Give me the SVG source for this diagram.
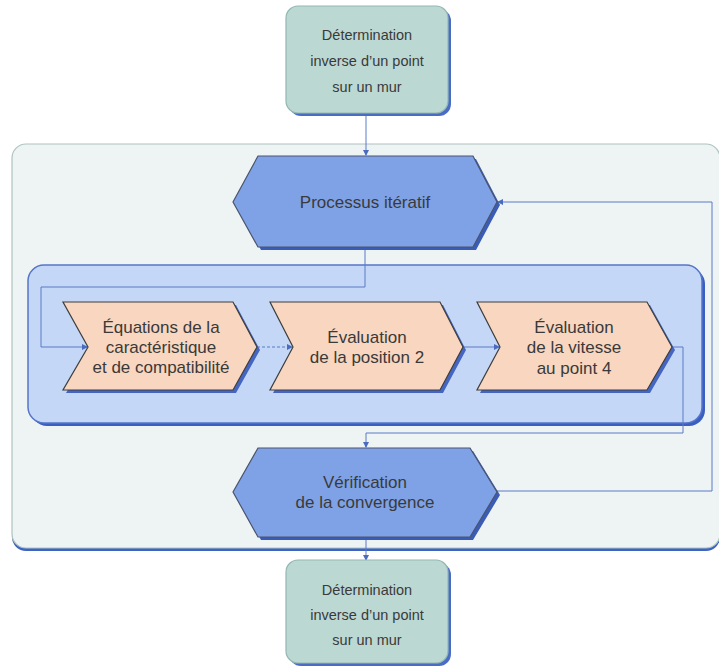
<svg xmlns="http://www.w3.org/2000/svg" width="719" height="668" viewBox="0 0 719 668">
<defs>
<marker id="arr" markerWidth="6" markerHeight="6" refX="5" refY="3" orient="auto" markerUnits="userSpaceOnUse">
<path d="M0,0 L6,3 L0,6 Z" fill="#4a6cc0"/>
</marker>
<style>
.term{fill:#bcd8d3;stroke:#93b7b1;stroke-width:1.2}
.termsh{fill:#4a6cc4}
.hex{fill:#7fa2e6;stroke:#4a5470;stroke-width:1.2}
.hexsh{fill:#3a5cb4}
.chev{fill:#f8d6bf;stroke:#3e3e3e;stroke-width:1.2}
.chevsh{fill:#4466c2}
.txt{font-family:"Liberation Sans",Arial,sans-serif;fill:#3a3a3a;text-anchor:middle}
.t14{font-size:14.5px}
.t17{font-size:17px}
.conn{fill:none;stroke:#5a7bc8;stroke-width:1}
</style>
</defs>
<rect width="719" height="668" fill="#ffffff"/>

<g id="outer-container">
<rect x="12" y="147" width="708" height="404" rx="14" fill="#3f63c0"/>
<rect x="12" y="144" width="708" height="404" rx="14" fill="#eef3f3" stroke="#aec4bf" stroke-width="1.2"/>
</g>

<g id="inner-container">
<rect x="31" y="268" width="674" height="158" rx="16" fill="#3a5fc0"/>
<rect x="28" y="265" width="674" height="158" rx="16" fill="#c4d7f6" stroke="#5575c9" stroke-width="1.5"/>
</g>

<g id="connectors">
<path class="conn" d="M366,113 L366,155" marker-end="url(#arr)"/>
<path class="conn" d="M365,247 L365,287 L41,287 L41,347 L87,347" marker-end="url(#arr)"/>
<path class="conn" d="M257,347 L292,347" stroke-dasharray="3,2" marker-end="url(#arr)"/>
<path class="conn" d="M463,347 L499,347" marker-end="url(#arr)"/>
<path class="conn" d="M672,347 L683,347 L683,433 L366,433 L366,447" marker-end="url(#arr)"/>
<path class="conn" d="M497,491 L712,491 L712,202 L498,202" marker-end="url(#arr)"/>
<path class="conn" d="M366,537 L366,560" marker-end="url(#arr)"/>
</g>

<g id="start">
<rect x="289" y="9" width="162" height="107" rx="12" class="termsh"/>
<rect x="286" y="6" width="162" height="107" rx="12" class="term"/>
<text class="txt t14" x="367" y="40">Détermination</text>
<text class="txt t14" x="367" y="66">inverse d’un point</text>
<text class="txt t14" x="367" y="92">sur un mur</text>
</g>

<g id="processus">
<polygon class="hexsh" points="261,159 476,159 500,205 476,250 261,250 236,205"/>
<polygon class="hex" points="258,156 473,156 497,202 473,247 258,247 233,202"/>
<text class="txt t17" x="365" y="208">Processus itératif</text>
</g>

<g id="equations">
<polygon class="chevsh" points="66,305 236,305 260,350 236,393 66,393 91,350"/>
<polygon class="chev" points="63,302 233,302 257,347 233,390 63,390 88,347"/>
<text class="txt t17" x="161" y="333">Équations de la</text>
<text class="txt t17" x="161" y="353">caractéristique</text>
<text class="txt t17" x="161" y="373">et de compatibilité</text>
</g>

<g id="position2">
<polygon class="chevsh" points="273,305 443,305 466,350 443,393 273,393 296,350"/>
<polygon class="chev" points="270,302 440,302 463,347 440,390 270,390 293,347"/>
<text class="txt t17" x="367" y="343">Évaluation</text>
<text class="txt t17" x="367" y="363">de la position 2</text>
</g>

<g id="vitesse4">
<polygon class="chevsh" points="480,305 650,305 675,350 650,393 480,393 503,350"/>
<polygon class="chev" points="477,302 647,302 672,347 647,390 477,390 500,347"/>
<text class="txt t17" x="574" y="333">Évaluation</text>
<text class="txt t17" x="574" y="353">de la vitesse</text>
<text class="txt t17" x="574" y="374">au point 4</text>
</g>

<g id="verification">
<polygon class="hexsh" points="261,451 473,451 500,495 473,540 261,540 236,495"/>
<polygon class="hex" points="258,448 470,448 497,492 470,537 258,537 233,492"/>
<text class="txt t17" x="365" y="488">Vérification</text>
<text class="txt t17" x="365" y="508">de la convergence</text>
</g>

<g id="end">
<rect x="289" y="563" width="162" height="103" rx="12" class="termsh"/>
<rect x="286" y="560" width="162" height="103" rx="12" class="term"/>
<text class="txt t14" x="367" y="595">Détermination</text>
<text class="txt t14" x="367" y="620">inverse d’un point</text>
<text class="txt t14" x="367" y="645">sur un mur</text>
</g>
</svg>
